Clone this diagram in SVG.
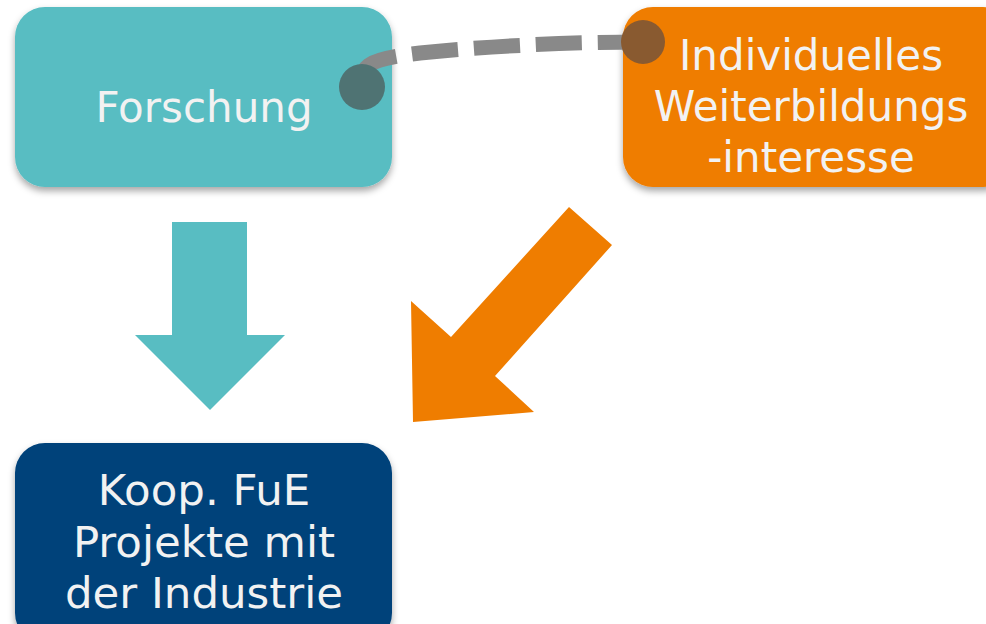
<svg xmlns="http://www.w3.org/2000/svg" width="986" height="624" viewBox="0 0 986 624">
<defs>
<style>
.lbl{font-family:"DejaVu Sans","Liberation Sans",sans-serif;font-size:42px;fill:#F2F2F2;text-anchor:middle}
.big{font-size:43.5px}
.box{filter:url(#sh)}
</style>
<filter id="sh" x="-10%" y="-10%" width="120%" height="130%">
<feDropShadow dx="0" dy="4" stdDeviation="3.5" flood-color="#000" flood-opacity="0.35"/>
</filter>
</defs>
<rect width="986" height="624" fill="#FFFFFF"/>
<g id="forschung">
<rect class="box" x="15" y="7" width="377" height="180" rx="30" fill="#58BDC2"/>
<text class="lbl" x="204" y="122">Forschung</text>
</g>
<g id="weiterbildung">
<rect class="box" x="623" y="7" width="390" height="180" rx="30" fill="#EF7D00"/>
<text class="lbl" x="811" y="70">Individuelles</text>
<text class="lbl" x="811" y="121">Weiterbildungs</text>
<text class="lbl" x="811" y="172">-interesse</text>
</g>
<g id="koop">
<rect class="box" x="15" y="443" width="377" height="200" rx="30" fill="#00427A"/>
<text class="lbl big" x="204" y="505">Koop. FuE</text>
<text class="lbl big" x="204" y="557">Projekte mit</text>
<text class="lbl big" x="204" y="608">der Industrie</text>
</g>
<g id="connectors">
<polygon points="172,222 247,222 247,335 285,335 210,410 135,335 172,335" fill="#58BDC2"/>
<polygon points="569,207 612,245 495,376 534,412 413,422 411,301 451,337" fill="#EF7D00"/>
<path d="M362 80 C362 64 372 59 420 53 C500 45 580 42 642 42" fill="none" stroke="#898989" stroke-width="15" stroke-dasharray="46 16"/>
<circle cx="362" cy="87" r="23" fill="#4F7373"/>
<circle cx="643" cy="42" r="22" fill="#895A30"/>
</g>
</svg>
